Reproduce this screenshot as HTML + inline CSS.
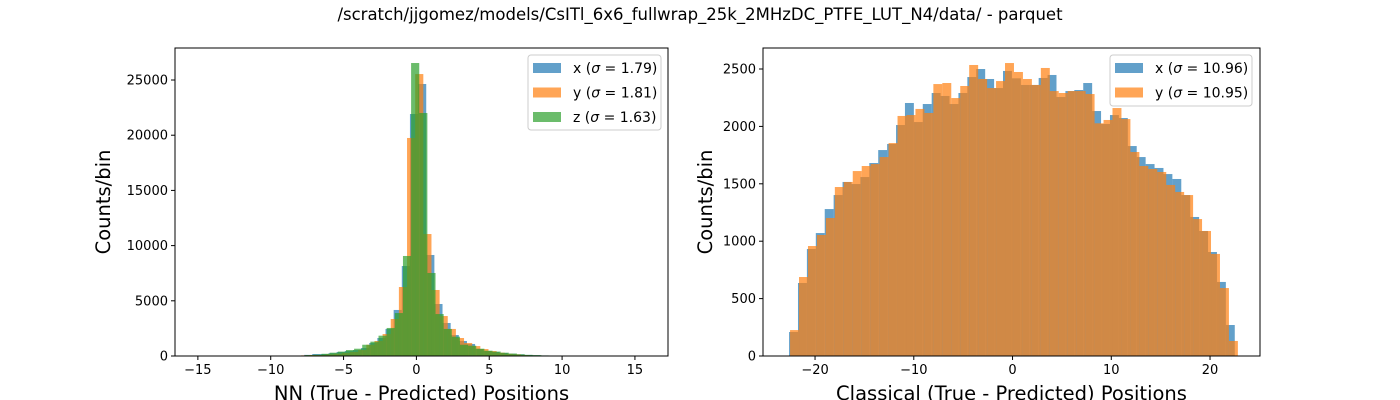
<!DOCTYPE html>
<html><head><meta charset="utf-8"><style>
html,body{margin:0;padding:0;background:#fff;}
svg{display:block;font-family:"DejaVu Sans","Liberation Sans",sans-serif;}
</style></head><body>
<svg id="fig" width="1400" height="400" viewBox="0 0 1400 400" xmlns="http://www.w3.org/2000/svg">
<rect width="1400" height="400" fill="#fff"/>
<text x="700" y="20" font-size="16.5" text-anchor="middle">/scratch/jjgomez/models/CsITl_6x6_fullwrap_25k_2MHzDC_PTFE_LUT_N4/data/ - parquet</text>
<g id="left"></g>
<g id="right"></g>
</svg>
<script>
// ---- Left panel data (NN) ----
const nnXStart = -7.71, nnXWidth = 0.559;
const nnXCounts = [100,180,180,250,360,450,540,720,1180,1630,2450,4170,8150,21920,24640,9150,4710,2990,1900,1360,1090,630,450,360,270,200,150,100,70,50,30];
const nnYStart = -7.91, nnYWidth = 0.559;
const nnYCounts = [60,90,90,150,200,280,360,540,1020,1360,1990,3350,6250,19750,25540,11050,5980,3620,2450,1630,1180,900,630,450,300,200,150,80,50];
const nnZStart = -8.19, nnZWidth = 0.559;
const nnZCounts = [40,80,120,200,300,400,540,660,1020,1300,1840,2540,3890,9060,26540,22010,7520,3800,2450,1750,1020,930,660,480,400,300,220,150,100,80,50,30];
const nnXTicks = [-15,-10,-5,0,5,10,15];
const nnYTicks = [0,5000,10000,15000,20000,25000];
const nnLegend = [["x","1.79"],["y","1.81"],["z","1.63"]];
// ---- Right panel data (Classical) ----
const clXStart = -22.63, clXWidth = 0.9027;
const clXCounts = [209,636,932,1071,1280,1402,1516,1498,1559,1681,1794,1847,2012,2204,2038,2195,2291,2265,2195,2291,2430,2500,2413,2334,2483,2419,2361,2361,2422,2448,2256,2308,2317,2378,2134,2021,2099,2073,1829,1733,1672,1638,1585,1542,1402,1211,1089,906,645,270];
const clYStart = -22.53, clYWidth = 0.907;
const clYCounts = [226,688,958,1054,1202,1472,1516,1611,1655,1672,1733,1855,2091,2099,2152,2117,2369,2378,2247,2352,2535,2413,2334,2395,2552,2474,2413,2361,2509,2308,2291,2308,2308,2282,2027,2056,2160,2064,1777,1655,1629,1603,1490,1429,1402,1193,1089,889,592,131];
const clXTicks = [-20,-10,0,10,20];
const clYTicks = [0,500,1000,1500,2000,2500];
const clLegend = [["x","10.96"],["y","10.95"]];

const colors = ["#1f77b4","#ff7f0e","#2ca02c"];
const NS = "http://www.w3.org/2000/svg";
function mk(tag, attrs, parent){const e=document.createElementNS(NS,tag);for(const k in attrs)e.setAttribute(k,attrs[k]);parent.appendChild(e);return e;}

function panel(g, box, xdom, ydom, series, xt, yt, legend, legBox, xlabel, ylabelX){
  const sx = v => box.x0 + (v - xdom[0])/(xdom[1]-xdom[0])*(box.x1-box.x0);
  const sy = v => box.y1 - (v - ydom[0])/(ydom[1]-ydom[0])*(box.y1-box.y0);
  series.forEach((s,si)=>{
    const sg = mk('g',{},g);
    
    
    s.counts.forEach((c,i)=>{
      const a = s.start + i*s.width, b = a + s.width;
      const r = mk('rect',{x:sx(a),y:sy(c),width:Math.max(0,sx(b)-sx(a)),height:sy(0)-sy(c),fill:colors[si],'fill-opacity':0.7},sg);
      
      
    });
  });
  const fr = mk('rect',{x:box.x0,y:box.y0,width:box.x1-box.x0,height:box.y1-box.y0,fill:'none',stroke:'#000','stroke-width':1},g);
  
  
  xt.forEach(t=>{
    const x = sx(t);
    mk('line',{x1:x,x2:x,y1:box.y1,y2:box.y1+4,stroke:'#000'},g);
    const tx = mk('text',{x:x,y:box.y1+18,'font-size':13,'text-anchor':'middle'},g);
    tx.textContent = t<0 ? '\u2212'+(-t) : String(t);
    
    
  });
  yt.forEach(t=>{
    const y = sy(t);
    mk('line',{x1:box.x0-4,x2:box.x0,y1:y,y2:y,stroke:'#000'},g);
    const tx = mk('text',{x:box.x0-7,y:y+4.5,'font-size':13,'text-anchor':'end'},g);
    tx.textContent = String(t);
    
    
  });
  const xl = mk('text',{x:(box.x0+box.x1)/2,y:box.y1+44,'font-size':19.5,'text-anchor':'middle'},g);
  xl.textContent = xlabel;
  
  
  const yl = mk('text',{x:0,y:0,'font-size':19.5,'text-anchor':'middle',transform:`translate(${ylabelX},${(box.y0+box.y1)/2}) rotate(-90)`},g);
  yl.textContent = 'Counts/bin';
  
  
  const lg = mk('g',{},g);
  
  
  mk('rect',{x:legBox.x,y:legBox.y,width:legBox.w,height:legBox.h,rx:3,fill:'#fff','fill-opacity':0.8,stroke:'#ccc'},lg);
  legend.forEach((l,i)=>{
    const cy = legBox.y + 12 + i*24.5;
    const e = mk('g',{},lg);
    
    
    mk('rect',{x:legBox.x+5,y:cy-4,width:28,height:10,fill:colors[i],'fill-opacity':0.7},e);
    const t = mk('text',{x:legBox.x+45,y:cy+6,'font-size':14},e);
    mk('tspan',{},t).textContent = l[0] + ' (';
    mk('tspan',{'font-style':'italic'},t).textContent = 'σ';
    mk('tspan',{},t).textContent = ' = ' + l[1] + ')';
  });
}

panel(document.getElementById('left'), {x0:175,x1:668,y0:48,y1:356}, [-16.57,17.27],[0,27900],
  [{start:nnXStart,width:nnXWidth,counts:nnXCounts},{start:nnYStart,width:nnYWidth,counts:nnYCounts},{start:nnZStart,width:nnZWidth,counts:nnZCounts}],
  nnXTicks, nnYTicks, nnLegend, {x:528,y:55,w:133,h:75}, 'NN (True - Predicted) Positions', 110);
panel(document.getElementById('right'), {x0:763,x1:1260,y0:48,y1:356}, [-25.27,25.06],[0,2683],
  [{start:clXStart,width:clXWidth,counts:clXCounts},{start:clYStart,width:clYWidth,counts:clYCounts}],
  clXTicks, clYTicks, clLegend, {x:1110,y:55,w:142,h:51}, 'Classical (True - Predicted) Positions', 712);
</script>
</body></html>
